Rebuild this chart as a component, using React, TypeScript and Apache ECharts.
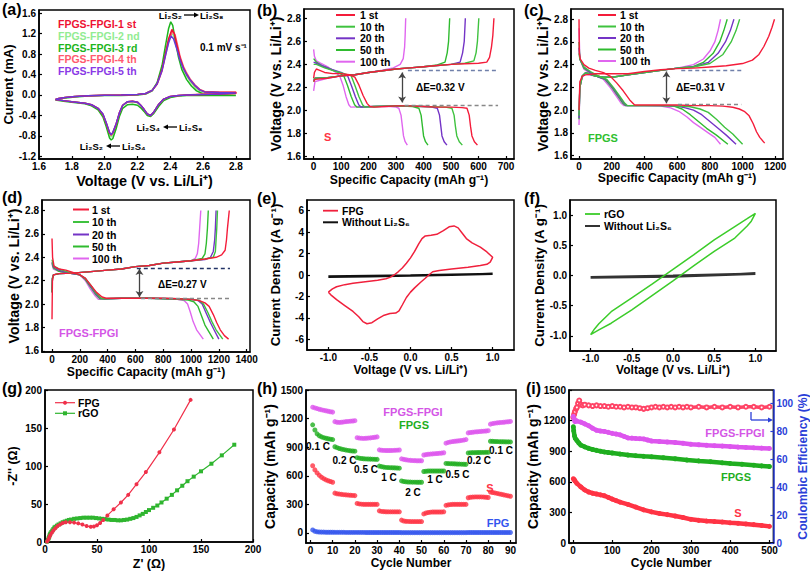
import React, { useEffect, useRef } from "react";
import * as echarts from "echarts";

const FONT = '"Liberation Sans", Arial, Helvetica, sans-serif';

// ---------- colours ----------
const C1 = "#f41c3a";
const C10 = "#3fc23f";
const C20 = "#7434c6";
const C50 = "#2fbb2f";
const C100 = "#e066ef";

// ---------- (a) CV of FPGS-FPGI ----------
const aVoltTicks = [1.6, 1.8, 2.0, 2.2, 2.4, 2.6, 2.8];
const aCurrTicks = [-1.2, -0.8, -0.4, 0.0, 0.4, 0.8, 1.2, 1.6];
const aCycle1 = [[1.7,-0.09],[1.72,-0.07],[1.76,-0.05],[1.82,-0.03],[1.9,-0.015],[2.0,-0.005],[2.1,0.0],[2.2,0.01],[2.25,0.03],[2.29,0.09],[2.32,0.22],[2.35,0.5],[2.37,0.8],[2.39,1.1],[2.41,1.28],[2.425,1.2],[2.44,0.98],[2.46,0.72],[2.48,0.53],[2.5,0.4],[2.52,0.3],[2.55,0.18],[2.58,0.1],[2.61,0.06],[2.7,0.05],[2.8,0.05],[2.8,0.03],[2.7,0.02],[2.6,0.01],[2.5,0.0],[2.45,-0.01],[2.4,-0.03],[2.36,-0.08],[2.33,-0.18],[2.3,-0.33],[2.28,-0.4],[2.26,-0.37],[2.24,-0.28],[2.22,-0.2],[2.2,-0.14],[2.17,-0.12],[2.14,-0.13],[2.11,-0.2],[2.09,-0.35],[2.07,-0.57],[2.05,-0.74],[2.04,-0.78],[2.03,-0.74],[2.01,-0.55],[1.99,-0.38],[1.96,-0.26],[1.92,-0.19],[1.88,-0.16],[1.8,-0.13],[1.75,-0.11],[1.7,-0.09]];
const aCycle2 = [[1.7,-0.09],[1.72,-0.07],[1.76,-0.05],[1.82,-0.03],[1.9,-0.015],[2.0,-0.005],[2.1,0.0],[2.2,0.01],[2.25,0.03],[2.29,0.1],[2.32,0.24],[2.35,0.52],[2.37,0.82],[2.39,1.08],[2.405,1.22],[2.42,1.16],[2.44,0.92],[2.46,0.68],[2.48,0.5],[2.5,0.37],[2.52,0.27],[2.55,0.15],[2.58,0.07],[2.61,0.04],[2.7,0.03],[2.8,0.03],[2.8,0.02],[2.7,0.01],[2.6,0.0],[2.5,-0.005],[2.45,-0.015],[2.4,-0.04],[2.36,-0.09],[2.33,-0.19],[2.3,-0.34],[2.28,-0.41],[2.26,-0.38],[2.24,-0.29],[2.22,-0.21],[2.2,-0.15],[2.17,-0.13],[2.14,-0.14],[2.11,-0.21],[2.09,-0.37],[2.07,-0.6],[2.05,-0.78],[2.04,-0.82],[2.03,-0.77],[2.01,-0.57],[1.99,-0.39],[1.96,-0.27],[1.92,-0.2],[1.88,-0.16],[1.8,-0.13],[1.75,-0.11],[1.7,-0.09]];
const aCycle3 = [[1.7,-0.1],[1.72,-0.08],[1.76,-0.06],[1.82,-0.04],[1.9,-0.02],[2.0,-0.01],[2.1,-0.01],[2.2,0.0],[2.25,0.02],[2.29,0.08],[2.32,0.24],[2.35,0.58],[2.37,0.95],[2.39,1.3],[2.403,1.43],[2.415,1.36],[2.43,1.08],[2.45,0.74],[2.47,0.5],[2.5,0.3],[2.53,0.17],[2.56,0.08],[2.6,0.02],[2.7,0.0],[2.8,-0.01],[2.8,-0.01],[2.7,-0.01],[2.6,-0.01],[2.5,-0.01],[2.45,-0.02],[2.4,-0.05],[2.36,-0.11],[2.33,-0.22],[2.3,-0.36],[2.28,-0.42],[2.26,-0.4],[2.24,-0.32],[2.22,-0.25],[2.2,-0.2],[2.17,-0.18],[2.14,-0.19],[2.11,-0.26],[2.09,-0.42],[2.07,-0.66],[2.05,-0.85],[2.04,-0.88],[2.03,-0.84],[2.01,-0.62],[1.99,-0.43],[1.96,-0.29],[1.92,-0.21],[1.88,-0.17],[1.8,-0.14],[1.75,-0.12],[1.7,-0.1]];
const aCycle4 = [[1.7,-0.09],[1.72,-0.07],[1.76,-0.05],[1.82,-0.03],[1.9,-0.015],[2.0,-0.005],[2.1,0.0],[2.2,0.01],[2.25,0.03],[2.29,0.09],[2.32,0.21],[2.35,0.47],[2.37,0.76],[2.39,1.05],[2.415,1.25],[2.43,1.17],[2.445,0.97],[2.46,0.75],[2.48,0.56],[2.5,0.43],[2.52,0.32],[2.55,0.2],[2.58,0.11],[2.61,0.07],[2.7,0.06],[2.8,0.06],[2.8,0.04],[2.7,0.03],[2.6,0.02],[2.5,0.0],[2.45,-0.01],[2.4,-0.03],[2.36,-0.08],[2.33,-0.18],[2.3,-0.33],[2.28,-0.4],[2.26,-0.37],[2.24,-0.28],[2.22,-0.2],[2.2,-0.14],[2.17,-0.12],[2.14,-0.13],[2.11,-0.2],[2.09,-0.35],[2.07,-0.57],[2.05,-0.74],[2.04,-0.78],[2.03,-0.74],[2.01,-0.55],[1.99,-0.38],[1.96,-0.26],[1.92,-0.19],[1.88,-0.16],[1.8,-0.13],[1.75,-0.11],[1.7,-0.09]];
const aCycle5 = [[1.7,-0.09],[1.72,-0.07],[1.76,-0.05],[1.82,-0.03],[1.9,-0.015],[2.0,-0.005],[2.1,0.0],[2.2,0.01],[2.25,0.03],[2.29,0.09],[2.32,0.22],[2.35,0.48],[2.37,0.76],[2.39,1.02],[2.405,1.15],[2.42,1.1],[2.44,0.9],[2.46,0.68],[2.48,0.52],[2.5,0.4],[2.52,0.3],[2.55,0.19],[2.58,0.1],[2.61,0.06],[2.7,0.05],[2.8,0.04],[2.8,0.03],[2.7,0.02],[2.6,0.01],[2.5,0.0],[2.45,-0.01],[2.4,-0.03],[2.36,-0.08],[2.33,-0.18],[2.3,-0.33],[2.28,-0.4],[2.26,-0.37],[2.24,-0.28],[2.22,-0.2],[2.2,-0.14],[2.17,-0.12],[2.14,-0.13],[2.11,-0.2],[2.09,-0.35],[2.07,-0.56],[2.05,-0.73],[2.04,-0.77],[2.03,-0.73],[2.01,-0.54],[1.99,-0.37],[1.96,-0.26],[1.92,-0.19],[1.88,-0.16],[1.8,-0.13],[1.75,-0.11],[1.7,-0.09]];

// ---------- (b) S electrode ----------
const vTicks = [1.6, 1.8, 2.0, 2.2, 2.4, 2.6, 2.8];
const bCapTicks = [0, 100, 200, 300, 400, 500, 600, 700];
const bDis1 = [[0,2.28],[3,2.33],[10,2.36],[20,2.35],[40,2.33],[70,2.32],[100,2.32],[130,2.31],[150,2.29],[165,2.22],[180,2.13],[195,2.06],[205,2.035],[220,2.03],[260,2.035],[300,2.04],[350,2.04],[400,2.035],[450,2.03],[500,2.03],[540,2.025],[558,2.02],[566,1.96],[571,1.86],[576,1.78],[585,1.73],[596,1.7]];
const bDis10 = [[0,2.4],[10,2.4],[40,2.37],[80,2.34],[110,2.32],[137,2.3],[150,2.22],[165,2.12],[178,2.05],[186,2.03],[220,2.035],[300,2.04],[400,2.035],[480,2.03],[503,2.02],[511,1.96],[516,1.86],[521,1.78],[530,1.73],[541,1.7]];
const bDis20 = [[0,2.42],[10,2.41],[30,2.39],[60,2.36],[100,2.33],[124,2.3],[137,2.22],[152,2.12],[164,2.05],[172,2.03],[220,2.035],[300,2.04],[400,2.035],[430,2.03],[450,2.02],[458,1.96],[463,1.86],[467,1.78],[475,1.73],[485,1.7]];
const bDis50 = [[0,2.45],[10,2.42],[30,2.39],[60,2.36],[90,2.33],[110,2.3],[123,2.22],[137,2.12],[149,2.05],[157,2.03],[220,2.035],[300,2.04],[360,2.035],[383,2.02],[391,1.96],[396,1.86],[400,1.78],[407,1.73],[416,1.7]];
const bDis100 = [[0,2.53],[3,2.47],[10,2.43],[25,2.41],[50,2.38],[75,2.34],[95,2.3],[107,2.22],[118,2.12],[128,2.05],[135,2.03],[200,2.035],[280,2.035],[300,2.03],[310,2.02],[318,1.96],[323,1.86],[327,1.78],[333,1.73],[341,1.7]];
const bChg1 = [[0,2.25],[5,2.27],[50,2.28],[100,2.3],[150,2.31],[200,2.33],[250,2.345],[300,2.36],[350,2.37],[400,2.38],[450,2.39],[500,2.4],[550,2.405],[600,2.41],[630,2.42],[640,2.46],[647,2.55],[652,2.65],[656,2.8]];
const bChg10 = [[0,2.27],[5,2.28],[50,2.285],[100,2.3],[150,2.31],[200,2.33],[250,2.345],[300,2.36],[350,2.37],[400,2.38],[450,2.39],[500,2.4],[550,2.41],[583,2.43],[591,2.5],[596,2.6],[601,2.8]];
const bChg20 = [[0,2.26],[5,2.28],[50,2.285],[100,2.3],[150,2.31],[200,2.33],[250,2.345],[300,2.36],[350,2.37],[400,2.38],[450,2.39],[500,2.4],[533,2.42],[542,2.5],[548,2.6],[552,2.8]];
const bChg50 = [[0,2.25],[5,2.28],[50,2.285],[100,2.3],[150,2.31],[200,2.33],[250,2.345],[300,2.36],[350,2.37],[400,2.38],[450,2.395],[478,2.42],[486,2.5],[491,2.6],[495,2.8]];
const bChg100 = [[0,2.17],[5,2.25],[50,2.28],[100,2.3],[150,2.31],[200,2.33],[250,2.35],[290,2.37],[315,2.4],[326,2.45],[331,2.55],[333,2.65],[335,2.8]];

// ---------- (c) FPGS electrode ----------
const cCapTicks = [0, 200, 400, 600, 800, 1000, 1200];
const cDis1 = [[0,2.8],[2,2.5],[8,2.45],[30,2.4],[60,2.37],[100,2.35],[150,2.33],[190,2.3],[230,2.24],[270,2.17],[310,2.09],[340,2.045],[400,2.045],[500,2.045],[600,2.045],[700,2.04],[800,2.04],[880,2.035],[940,2.025],[980,2.01],[1010,1.99],[1040,1.95],[1065,1.88],[1085,1.81],[1105,1.76],[1135,1.71]];
const cDis10 = [[0,2.5],[5,2.45],[30,2.38],[70,2.34],[120,2.3],[170,2.27],[210,2.2],[250,2.12],[280,2.06],[295,2.04],[400,2.04],[500,2.04],[600,2.035],[680,2.03],[740,2.01],[790,1.98],[840,1.92],[890,1.85],[940,1.79],[1000,1.7]];
const cDis20 = [[0,2.55],[5,2.45],[30,2.38],[70,2.33],[120,2.29],[165,2.27],[205,2.2],[245,2.12],[275,2.06],[290,2.04],[400,2.04],[500,2.04],[600,2.035],[650,2.02],[700,2.0],[750,1.96],[800,1.9],[850,1.84],[900,1.78],[960,1.7]];
const cDis50 = [[0,2.6],[5,2.45],[30,2.37],[70,2.33],[120,2.29],[160,2.27],[200,2.2],[240,2.12],[268,2.06],[285,2.04],[400,2.04],[500,2.04],[580,2.035],[630,2.01],[680,1.96],[730,1.9],[780,1.84],[840,1.78],[910,1.7]];
const cDis100 = [[0,2.72],[5,2.45],[30,2.36],[70,2.32],[110,2.3],[150,2.27],[190,2.2],[230,2.12],[258,2.06],[275,2.04],[400,2.04],[500,2.035],[560,2.02],[610,1.99],[660,1.94],[700,1.89],[740,1.85],[790,1.8],[830,1.76],[865,1.7]];
const cChg1 = [[0,2.0],[5,2.25],[20,2.3],[40,2.31],[100,2.32],[200,2.32],[300,2.32],[400,2.34],[500,2.355],[600,2.365],[700,2.37],[800,2.38],[900,2.39],[1000,2.41],[1060,2.44],[1100,2.49],[1130,2.56],[1160,2.65],[1180,2.73],[1195,2.8]];
const cChg10 = [[0,1.95],[5,2.2],[20,2.3],[40,2.33],[60,2.32],[100,2.3],[150,2.29],[200,2.29],[300,2.31],[400,2.33],[500,2.35],[600,2.37],[700,2.38],[800,2.41],[880,2.49],[930,2.6],[960,2.7],[982,2.8]];
const cChg20 = [[0,1.93],[5,2.2],[20,2.3],[40,2.33],[60,2.32],[100,2.3],[150,2.29],[200,2.29],[300,2.31],[400,2.33],[500,2.35],[600,2.37],[700,2.38],[790,2.42],[850,2.5],[895,2.6],[925,2.7],[947,2.8]];
const cChg50 = [[0,1.92],[5,2.2],[20,2.3],[40,2.33],[60,2.32],[100,2.3],[150,2.29],[200,2.29],[300,2.31],[400,2.33],[500,2.35],[600,2.37],[700,2.385],[760,2.42],[820,2.5],[860,2.6],[885,2.7],[906,2.8]];
const cChg100 = [[0,1.87],[5,2.2],[20,2.29],[40,2.32],[60,2.31],[100,2.3],[150,2.29],[200,2.29],[300,2.31],[400,2.33],[500,2.35],[600,2.37],[700,2.4],[760,2.45],[800,2.52],[830,2.6],[850,2.7],[865,2.8]];

// ---------- (d) FPGS-FPGI electrode ----------
const dCapTicks = [0, 200, 400, 600, 800, 1000, 1200, 1400];
const dDis1 = [[0,2.56],[4,2.4],[15,2.32],[50,2.3],[100,2.29],[150,2.27],[200,2.25],[240,2.22],[280,2.16],[320,2.1],[360,2.06],[390,2.05],[500,2.05],[600,2.05],[700,2.05],[800,2.05],[900,2.045],[1000,2.04],[1060,2.03],[1100,2.01],[1130,1.98],[1160,1.91],[1185,1.84],[1210,1.78],[1240,1.73],[1270,1.7]];
const dDis10 = [[0,2.38],[10,2.33],[50,2.3],[100,2.28],[200,2.25],[240,2.22],[280,2.16],[320,2.09],[355,2.05],[380,2.045],[500,2.05],[700,2.05],[900,2.045],[1000,2.04],[1060,2.03],[1090,2.0],[1120,1.93],[1150,1.85],[1180,1.78],[1228,1.7]];
const dDis20 = [[0,2.36],[10,2.32],[50,2.29],[100,2.27],[200,2.25],[240,2.22],[280,2.15],[320,2.08],[350,2.05],[380,2.045],[500,2.05],[700,2.05],[900,2.045],[1000,2.04],[1050,2.03],[1080,2.0],[1110,1.92],[1140,1.84],[1170,1.77],[1200,1.7]];
const dDis50 = [[0,2.35],[10,2.31],[50,2.28],[100,2.27],[200,2.25],[240,2.21],[280,2.14],[315,2.08],[345,2.045],[380,2.045],[500,2.05],[700,2.05],[900,2.04],[980,2.035],[1020,2.02],[1050,1.98],[1075,1.9],[1100,1.82],[1130,1.76],[1160,1.7]];
const dDis100 = [[0,2.34],[10,2.3],[50,2.28],[100,2.27],[200,2.25],[240,2.2],[275,2.13],[310,2.07],[335,2.04],[370,2.04],[500,2.05],[700,2.05],[900,2.04],[950,2.03],[975,2.0],[995,1.93],[1015,1.85],[1040,1.78],[1088,1.7]];
const dChg1 = [[0,1.87],[3,2.2],[10,2.25],[50,2.26],[150,2.265],[300,2.28],[400,2.29],[500,2.3],[600,2.32],[700,2.33],[800,2.35],[900,2.36],[1000,2.37],[1100,2.385],[1180,2.4],[1220,2.42],[1245,2.46],[1255,2.55],[1262,2.65],[1275,2.8]];
const dChg10 = [[0,2.1],[3,2.22],[10,2.25],[50,2.26],[150,2.265],[300,2.28],[400,2.29],[500,2.3],[600,2.32],[700,2.33],[800,2.35],[900,2.36],[1000,2.37],[1100,2.385],[1160,2.4],[1175,2.45],[1180,2.55],[1185,2.65],[1190,2.8]];
const dChg20 = [[0,2.1],[3,2.22],[10,2.25],[50,2.26],[150,2.265],[300,2.28],[400,2.29],[500,2.3],[600,2.32],[700,2.33],[800,2.35],[900,2.36],[1000,2.37],[1100,2.38],[1140,2.4],[1160,2.45],[1170,2.55],[1175,2.65],[1180,2.8]];
const dChg50 = [[0,2.1],[3,2.22],[10,2.25],[50,2.26],[150,2.265],[300,2.28],[400,2.29],[500,2.3],[600,2.32],[700,2.33],[800,2.35],[900,2.36],[1000,2.37],[1080,2.39],[1100,2.43],[1110,2.52],[1118,2.65],[1124,2.8]];
const dChg100 = [[0,2.1],[3,2.22],[10,2.25],[50,2.26],[150,2.265],[300,2.28],[400,2.29],[500,2.3],[600,2.32],[700,2.33],[800,2.35],[900,2.36],[1000,2.37],[1030,2.39],[1045,2.43],[1055,2.52],[1062,2.65],[1070,2.8]];

// ---------- (e) FPG CV ----------
const ePotTicks = [-1.0, -0.5, 0.0, 0.5, 1.0];
const eCurTicks = [-6, -4, -2, 0, 2, 4, 6];
const eFpg = [[-1.0,-1.6],[-0.95,-1.3],[-0.9,-1.1],[-0.8,-0.9],[-0.7,-0.78],[-0.6,-0.68],[-0.5,-0.58],[-0.4,-0.48],[-0.3,-0.35],[-0.25,-0.22],[-0.2,0.0],[-0.15,0.3],[-0.1,0.65],[-0.05,1.1],[0.0,1.6],[0.05,2.2],[0.1,2.9],[0.14,3.4],[0.18,3.65],[0.25,3.72],[0.32,3.8],[0.4,4.15],[0.47,4.5],[0.53,4.58],[0.58,4.4],[0.63,3.9],[0.68,3.4],[0.75,3.0],[0.85,2.6],[0.93,2.15],[1.0,1.65],[0.97,1.2],[0.93,1.0],[0.85,0.88],[0.7,0.72],[0.5,0.55],[0.35,0.42],[0.27,0.3],[0.23,0.05],[0.18,-0.3],[0.12,-0.7],[0.05,-1.2],[0.0,-1.6],[-0.05,-2.1],[-0.1,-2.8],[-0.14,-3.35],[-0.18,-3.55],[-0.25,-3.6],[-0.32,-3.75],[-0.4,-4.1],[-0.47,-4.45],[-0.53,-4.55],[-0.58,-4.35],[-0.63,-3.9],[-0.7,-3.4],[-0.8,-2.85],[-0.9,-2.3],[-0.97,-1.85],[-1.0,-1.6]];
const eBlank = [[-1,-0.12],[-0.5,-0.08],[0,-0.03],[0.5,0.03],[1,0.1],[0.5,0.02],[0,-0.06],[-0.5,-0.12],[-1,-0.18]];

// ---------- (f) rGO CV ----------
const fCurTicks = [-1.0, -0.5, 0.0, 0.5, 1.0];
const fRgo = [[-1.0,-0.98],[-0.95,-0.88],[-0.9,-0.8],[-0.75,-0.6],[-0.5,-0.37],[-0.25,-0.14],[0,0.1],[0.25,0.34],[0.5,0.59],[0.75,0.81],[0.9,0.94],[1.0,1.03],[0.95,0.9],[0.9,0.82],[0.75,0.62],[0.5,0.4],[0.25,0.16],[0,-0.09],[-0.25,-0.33],[-0.5,-0.57],[-0.75,-0.79],[-0.9,-0.9],[-1.0,-0.98]];
const fBlank = [[-1,-0.03],[0,-0.005],[1,0.03],[0,-0.015],[-1,-0.035]];

// ---------- (g) Nyquist ----------
const gTicks = [0, 50, 100, 150, 200];
const gFpg = [[2,0.5],[3,3],[4,6],[5,9],[6.5,12],[8,15],[10,18],[12,21],[14.5,23],[17,25],[20,26],[24,26],[28,25.5],[32,24.5],[36,23],[40,21],[44,20],[47,20.5],[50,22],[53,25],[56,29],[60,35],[66,43],[73,52],[80,62],[88,76],[97,92],[110,118],[124,148],[140,187]];
const gRgo = [[2,0.5],[3,3],[3.5,5],[4,7],[4.5,9],[5,11],[6,13],[7,15],[8,17],[9,19],[10,20],[11.5,21.5],[13,23],[15,24.5],[17,26],[19,27],[21,28],[23,29],[25,29.5],[28,30.5],[31,31],[34,31.5],[37,32],[40,32],[43,32],[46,32],[49,31.5],[52,31],[55,30.5],[58,30],[61,29.5],[64,29],[67,29],[70,28.5],[73,28.5],[76,29],[79,29.5],[82,30.5],[85,31.5],[88,33],[91,35],[94,37],[97,39.5],[100,42],[104,45],[108,48],[112,52],[117,57],[122,62],[127,68],[132,74],[137,80],[143,86],[150,93],[160,103],[170,114],[182,128]];

// ---------- (h) rate capability ----------
const hCycleTicks = [0, 10, 20, 30, 40, 50, 60, 70, 80, 90];
const capTicks = [0, 300, 600, 900, 1200, 1500];
const hFpgsFpgi = [1320,1312,1305,1298,1292,1287,1282,1277,1272,1268,1168,1162,1160,1162,1165,1168,1170,1173,1175,1178,1000,996,993,992,994,996,998,1001,1004,1008,872,868,866,865,865,865,866,867,869,871,778,772,768,764,762,760,759,758,758,758,818,822,826,828,830,832,834,836,838,842,942,950,955,959,962,965,968,971,975,980,1050,1054,1057,1060,1062,1064,1066,1068,1070,1073,1142,1148,1152,1155,1158,1160,1162,1165,1167,1170];
const hFpgs = [1135,1080,1040,1020,1008,1000,994,989,984,980,905,895,886,880,875,870,866,862,860,858,790,785,781,779,777,776,775,774,773,772,702,696,691,688,686,685,684,683,682,680,546,540,537,535,534,533,533,532,532,532,645,648,650,650,650,650,650,650,650,650,730,728,727,726,725,724,723,722,721,720,840,842,843,843,844,844,845,845,846,846,962,961,960,959,958,957,957,956,956,955];
const hS = [705,662,630,605,585,570,557,548,540,532,418,412,408,405,402,400,398,396,394,392,310,305,302,300,300,300,300,300,300,300,232,226,224,223,222,222,222,222,222,222,135,126,122,121,120,120,120,120,120,120,200,210,215,218,220,220,220,220,220,222,290,295,298,300,300,300,300,300,300,300,370,375,377,378,378,378,378,377,375,372,430,425,420,415,410,405,400,395,390,385];
const hFpg = [32,18,12,10,9,9,8,8,8,8,7,7,7,7,7,6,6,6,6,6,6,6,6,6,5,5,5,5,5,5,5,5,5,5,5,5,5,5,5,5,4,4,4,4,4,4,4,4,4,4,4,4,4,4,4,4,4,4,4,4,4,4,4,4,4,4,4,4,4,4,5,5,5,5,5,5,5,5,5,5,5,5,5,5,5,5,5,5,5,5];

// ---------- (i) long cycling ----------
const iCycleTicks = [0, 100, 200, 300, 400, 500];
const ceTicks = [0, 20, 40, 60, 80, 100];
const iFpgsFpgi = [[1,1240],[3,1215],[5,1190],[8,1200],[10,1195],[20,1185],[30,1168],[40,1150],[50,1125],[60,1105],[70,1098],[80,1094],[90,1085],[100,1075],[110,1068],[120,1060],[130,1045],[140,1030],[150,1028],[160,1025],[170,1023],[180,1020],[190,1010],[200,1000],[220,995],[240,990],[260,985],[280,978],[300,968],[320,963],[340,958],[360,954],[380,950],[400,945],[420,940],[440,937],[460,933],[480,930],[500,927]];
const iFpgs = [[1,1140],[2,1100],[4,1050],[6,1025],[10,1005],[15,980],[20,960],[30,943],[40,928],[50,917],[60,908],[70,900],[80,893],[90,887],[100,882],[120,872],[140,863],[160,856],[180,850],[200,845],[230,836],[260,826],[290,814],[320,805],[350,797],[380,786],[400,780],[430,772],[460,763],[480,756],[500,750]];
const iS = [[1,630],[3,622],[5,610],[10,585],[20,550],[30,520],[40,500],[50,488],[60,480],[70,472],[80,463],[90,447],[100,430],[110,415],[120,400],[140,378],[160,352],[180,325],[200,305],[220,290],[240,278],[260,265],[280,250],[300,232],[320,222],[340,215],[360,210],[380,205],[400,198],[420,193],[440,187],[460,180],[480,172],[500,163]];
const iCe = [[1,90],[3,92],[5,94],[8,96],[10,97],[13,100],[16,102],[20,99],[25,98.5],[30,99],[40,98.5],[50,98],[60,98.5],[70,98],[80,98],[90,97.5],[100,98],[110,97.5],[120,97.5],[130,97],[140,97.5],[150,97],[160,97],[170,96.5],[180,96],[190,96.5],[200,97],[210,97.5],[220,97],[230,97.5],[240,97],[250,97.5],[260,97],[270,97.5],[280,97],[290,97.5],[300,97],[320,97.5],[340,97],[360,97.5],[380,97],[400,97.5],[420,97],[440,97.5],[460,97.5],[480,97],[500,97.5]];

// ---------- helpers ----------
const grids = [
  { left: 39, top: 10, width: 211, height: 149 },
  { left: 304, top: 9, width: 210, height: 150 },
  { left: 571, top: 9, width: 212, height: 150 },
  { left: 42, top: 200, width: 208, height: 152 },
  { left: 307, top: 200, width: 207, height: 150 },
  { left: 570, top: 200, width: 206, height: 151 },
  { left: 45, top: 390, width: 208, height: 152 },
  { left: 306, top: 390, width: 210, height: 153 },
  { left: 569, top: 390, width: 208, height: 153 },
];

function axis(gi: number, min: number, max: number, ticks: number[], dec: number, name: string, gap: number, isY: boolean, nameSize: number, extra: any = {}) {
  const color = extra.color || "#000";
  return {
    type: "value",
    gridIndex: gi,
    min,
    max,
    position: extra.position,
    axisLine: { show: true, onZero: false, lineStyle: { color, width: 1.5 } },
    axisTick: { show: true, inside: true, length: 3, customValues: ticks, lineStyle: { color, width: 1.2 } },
    axisLabel: {
      customValues: ticks,
      formatter: (v: number) => v.toFixed(dec),
      fontSize: 10,
      fontWeight: "bold",
      fontFamily: FONT,
      color,
      margin: isY ? 3 : 2,
    },
    splitLine: { show: false },
    name,
    nameLocation: "middle",
    nameGap: gap,
    nameRotate: isY ? 90 : 0,
    nameTextStyle: { fontSize: nameSize, fontWeight: "bold", fontFamily: FONT, color },
  };
}

function line(gi: number, data: any, color: string, width = 1.4, yi?: number) {
  return {
    type: "line",
    xAxisIndex: gi,
    yAxisIndex: yi === undefined ? gi : yi,
    data,
    showSymbol: false,
    symbol: "none",
    lineStyle: { color, width },
    itemStyle: { color },
    silent: true,
  };
}

const graphics: any[] = [];
function txt(x: number, y: number, text: string, color = "#000", size = 10, align = "left") {
  graphics.push({
    type: "text",
    x,
    y,
    silent: true,
    style: {
      text,
      fill: color,
      font: `bold ${size}px ${FONT}`,
      align,
      textAlign: align,
      verticalAlign: "middle",
      textVerticalAlign: "middle",
    },
  });
}
function seg(x1: number, y1: number, x2: number, y2: number, color: string, w = 2) {
  graphics.push({ type: "line", silent: true, shape: { x1, y1, x2, y2 }, style: { stroke: color, lineWidth: w } });
}
function headLeft(x: number, y: number, color = "#000") {
  graphics.push({ type: "polygon", silent: true, shape: { points: [[x, y], [x + 5, y - 2.5], [x + 5, y + 2.5]] }, style: { fill: color } });
}
function headRight(x: number, y: number, color = "#000") {
  graphics.push({ type: "polygon", silent: true, shape: { points: [[x, y], [x - 5, y - 2.5], [x - 5, y + 2.5]] }, style: { fill: color } });
}

function cdLegend(x1: number, x2: number, tx: number, ys: number[]) {
  const items = [["1 st", C1], ["10 th", C10], ["20 th", C20], ["50 th", C50], ["100 th", C100]];
  items.forEach((it, k) => {
    seg(x1, ys[k], x2, ys[k], it[1], 2);
    txt(tx, ys[k], it[0], "#000", 10.5);
  });
}

function dashPair(upperY: number, x1: number, x2: number, lowerY: number, x3: number, x4: number, arrowX: number, aTop: number, aBot: number, upColor: string) {
  return {
    silent: true,
    symbol: "none",
    label: { show: false },
    data: [
      [{ coord: [x1, upperY], lineStyle: { color: upColor, type: [4, 3], width: 1.3 } }, { coord: [x2, upperY] }],
      [{ coord: [x3, lowerY], lineStyle: { color: "#888", type: [4, 3], width: 1.3 } }, { coord: [x4, lowerY] }],
      [
        { coord: [arrowX, aTop], symbol: "arrow", symbolSize: 6, lineStyle: { color: "#444", type: "solid", width: 1.3 } },
        { coord: [arrowX, aBot], symbol: "arrow", symbolSize: 6 },
      ],
    ],
  };
}

function buildOption() {
  const xAxes: any[] = [];
  const yAxes: any[] = [];
  const series: any[] = [];

  // (a)
  xAxes.push(axis(0, 1.6, 2.886, aVoltTicks, 1, "Voltage (V vs. Li/Li⁺)", 15, false, 14.4));
  yAxes.push(axis(0, -1.25, 1.66, aCurrTicks, 1, "Current (mA)", 23.5, true, 13));
  // (b)
  xAxes.push(axis(1, -35, 729, bCapTicks, 0, "Specific Capacity (mAh g⁻¹)", 15, false, 12.2));
  yAxes.push(axis(1, 1.58, 2.88, vTicks, 1, "Voltage (V vs. Li/Li⁺)", 16.5, true, 14.2));
  // (c)
  xAxes.push(axis(2, -49, 1247, cCapTicks, 0, "Specific Capacity (mAh g⁻¹)", 13, false, 12.2));
  yAxes.push(axis(2, 1.57, 2.89, vTicks, 1, "Voltage (V vs. Li/Li⁺)", 19, true, 14.2));
  // (d)
  xAxes.push(axis(3, -72, 1424, dCapTicks, 0, "Specific Capacity (mAh g⁻¹)", 14, false, 12.2));
  yAxes.push(axis(3, 1.59, 2.89, vTicks, 1, "Voltage (V vs. Li/Li⁺)", 21, true, 14.2));
  // (e)
  xAxes.push(axis(4, -1.26, 1.26, ePotTicks, 1, "Voltage (V vs. Li/Li⁺)", 14, false, 12));
  yAxes.push(axis(4, -7, 7, eCurTicks, 0, "Current Density (A g⁻¹)", 25, true, 13.3));
  // (f)
  xAxes.push(axis(5, -1.25, 1.25, ePotTicks, 1, "Voltage (V vs. Li/Li⁺)", 13, false, 12));
  yAxes.push(axis(5, -1.25, 1.25, fCurTicks, 1, "Current Density (A g⁻¹)", 20, true, 13.3));
  // (g)
  xAxes.push(axis(6, 0, 200, gTicks, 0, "Z' (Ω)", 15, false, 12.5));
  yAxes.push(axis(6, 0, 200, gTicks, 0, "-Z'' (Ω)", 26, true, 12.5));
  // (h)
  xAxes.push(axis(7, -2, 92.5, hCycleTicks, 0, "Cycle Number", 14, false, 12));
  yAxes.push(axis(7, -105, 1500, capTicks, 0, "Capacity (mAh g⁻¹)", 24, true, 14));
  // (i)
  xAxes.push(axis(8, -10, 510, iCycleTicks, 0, "Cycle Number", 14, false, 12));
  yAxes.push(axis(8, 0, 1500, capTicks, 0, "Capacity (mAh g⁻¹)", 17, true, 14));
  yAxes.push(axis(8, 0, 109.5, ceTicks, 0, "Coulombic Efficiency (%)", 15, true, 12.2, { color: "#2b3fd8", position: "right" }));

  // (a) series
  series.push(line(0, aCycle2, "#92ec92", 1.5));
  series.push(line(0, aCycle3, "#1db51d", 1.5));
  series.push(line(0, aCycle4, "#ff6274", 1.5));
  series.push(line(0, aCycle1, "#ee1133", 1.5));
  series.push(line(0, aCycle5, "#6a36d8", 1.5));

  // (b)
  const bSets: [any, any, string][] = [[bDis100, bChg100, C100], [bDis50, bChg50, C50], [bDis20, bChg20, C20], [bDis10, bChg10, C10], [bDis1, bChg1, C1]];
  bSets.forEach(([d, c, col]) => { series.push(line(1, d, col)); series.push(line(1, c, col)); });
  series[series.length - 1].markLine = dashPair(2.35, 343, 671, 2.05, 331, 671, 322, 2.33, 2.07, "#7080aa");

  // (c)
  const cSets: [any, any, string][] = [[cDis100, cChg100, C100], [cDis50, cChg50, C50], [cDis20, cChg20, C20], [cDis10, cChg10, C10], [cDis1, cChg1, C1]];
  cSets.forEach(([d, c, col]) => { series.push(line(2, d, col)); series.push(line(2, c, col)); });
  series[series.length - 1].markLine = dashPair(2.35, 625, 992, 2.05, 605, 992, 534, 2.34, 2.06, "#7080aa");

  // (d)
  const dSets: [any, any, string][] = [[dDis100, dChg100, C100], [dDis50, dChg50, C50], [dDis20, dChg20, C20], [dDis10, dChg10, C10], [dDis1, dChg1, C1]];
  dSets.forEach(([d, c, col]) => { series.push(line(3, d, col)); series.push(line(3, c, col)); });
  series[series.length - 1].markLine = dashPair(2.31, 610, 1280, 2.05, 640, 1280, 629, 2.3, 2.06, "#223366");

  // (e)
  series.push(line(4, eBlank, "#111", 2.2));
  series.push(line(4, eFpg, "#f0203c", 1.5));
  // (f)
  series.push(line(5, fBlank, "#333", 2.5));
  series.push(line(5, fRgo, "#3ccc2a", 1.5));

  // (g)
  series.push({ ...line(6, gRgo, "#2fb52f", 1.2), showSymbol: true, symbol: "rect", symbolSize: 4 });
  series.push({ ...line(6, gFpg, "#f0304a", 1.2), showSymbol: true, symbol: "circle", symbolSize: 4 });

  // (h)
  const hSeries: [number[], string][] = [[hFpg, "#3355ee"], [hS, "#ff3344"], [hFpgs, "#1fae1f"], [hFpgsFpgi, "#dd55ee"]];
  hSeries.forEach(([vals, col]) => {
    series.push({
      type: "scatter",
      xAxisIndex: 7,
      yAxisIndex: 7,
      data: vals.map((v, k) => [k + 1, v]),
      symbol: "circle",
      symbolSize: 5,
      itemStyle: { color: col },
      silent: true,
    });
  });

  // (i)
  series.push({ ...line(8, iCe, "#ff4466", 3.5, 9), showSymbol: true, symbol: "emptyCircle", symbolSize: 4 });
  series.push({ ...line(8, iS, "#ff3344", 4.5), showSymbol: true, symbol: "circle", symbolSize: 5 });
  series.push({ ...line(8, iFpgs, "#1fae1f", 4.5), showSymbol: true, symbol: "circle", symbolSize: 5 });
  series.push({ ...line(8, iFpgsFpgi, "#dd55ee", 4.5), showSymbol: true, symbol: "circle", symbolSize: 5 });

  // ---------- annotations ----------
  const panelTitles: [string, number, number][] = [["(a)", 2, 9], ["(b)", 257, 10], ["(c)", 524, 10], ["(d)", 2, 197], ["(e)", 257, 198], ["(f)", 524, 198], ["(g)", 2, 388], ["(h)", 257, 388], ["(i)", 526, 388]];
  panelTitles.forEach(([t, x, y]) => txt(x, y, t, "#000", 16));

  // (a) legend + labels
  const aLegend: [string, string][] = [["FPGS-FPGI-1 st", "#ee1133"], ["FPGS-FPGI-2 nd", "#92ec92"], ["FPGS-FPGI-3 rd", "#1db51d"], ["FPGS-FPGI-4 th", "#ff5a6e"], ["FPGS-FPGI-5 th", "#8a3ae6"]];
  aLegend.forEach(([t, c], k) => txt(58, 24 + k * 11.8, t, c, 10.5));
  txt(182, 15, "Li₂S₂", "#000", 9.5, "right");
  seg(184, 15, 197, 15, "#000", 1.3); headRight(199, 15);
  txt(200, 15, "Li₂S₈", "#000", 9.5);
  txt(200, 47, "0.1 mV s⁻¹", "#000", 10);
  txt(160, 127, "Li₂S₄", "#000", 9.5, "right");
  headLeft(163, 127); seg(167, 127, 177, 127, "#000", 1.3);
  txt(179, 127, "Li₂S₈", "#000", 9.5);
  txt(103, 146, "Li₂S₂", "#000", 9.5, "right");
  headLeft(106, 146); seg(110, 146, 120, 146, "#000", 1.3);
  txt(122, 146, "Li₂S₄", "#000", 9.5);

  // (b)(c)(d) legends + labels
  cdLegend(336, 355, 360, [15, 26.7, 38.3, 50, 61.7]);
  txt(416, 87, "ΔE=0.32 V", "#000", 10);
  txt(324, 137, "S", "#ff3344", 11);
  cdLegend(598, 616, 620, [15, 26.5, 38, 49.5, 61]);
  txt(676, 87, "ΔE=0.31 V", "#000", 10);
  txt(588, 138, "FPGS", "#2fbf2f", 11);
  cdLegend(73, 89, 92, [209.5, 222, 234.5, 246.5, 258.5]);
  txt(158, 284, "ΔE=0.27 V", "#000", 10);
  txt(59, 333, "FPGS-FPGI", "#d456e6", 11);

  // (e) legend
  seg(323, 210.7, 338, 210.7, "#f0203c", 1.8); txt(342, 210.7, "FPG", "#000", 10.5);
  seg(323, 222.3, 338, 222.3, "#111", 2); txt(342, 222.3, "Without Li₂S₆", "#000", 10.5);
  // (f) legend
  seg(585, 214, 600, 214, "#3ccc2a", 1.8); txt(604, 214, "rGO", "#000", 10.5);
  seg(585, 226, 600, 226, "#333", 2); txt(604, 226, "Without Li₂S₆", "#000", 10.5);
  // (g) legend
  seg(55, 402.7, 75, 402.7, "#f0304a", 1.2);
  graphics.push({ type: "circle", silent: true, shape: { cx: 65, cy: 402.7, r: 2 }, style: { fill: "#f0304a" } });
  txt(78, 402.7, "FPG", "#000", 10.5);
  seg(55, 413.3, 75, 413.3, "#2fb52f", 1.2);
  graphics.push({ type: "rect", silent: true, shape: { x: 63, y: 411.3, width: 4, height: 4 }, style: { fill: "#2fb52f" } });
  txt(78, 413.3, "rGO", "#000", 10.5);

  // (h) labels
  txt(413, 412, "FPGS-FPGI", "#d456e6", 11, "center");
  txt(414, 425, "FPGS", "#1fae1f", 11, "center");
  const rateLabels: [string, number, number][] = [["0.1 C", 318, 446.7], ["0.2 C", 344.5, 460], ["0.5 C", 366, 469.3], ["1 C", 389, 477.3], ["2 C", 413, 492.7], ["1 C", 435, 479], ["0.5 C", 457.5, 474], ["0.2 C", 479, 460], ["0.1 C", 501, 450]];
  rateLabels.forEach(([t, x, y]) => txt(x, y, t, "#000", 10, "center"));
  txt(490, 488, "S", "#ff3344", 11, "center");
  txt(498, 523, "FPG", "#3355ee", 11, "center");

  // (i) labels + arrow
  txt(735, 433, "FPGS-FPGI", "#d456e6", 11, "center");
  txt(736, 477, "FPGS", "#1fae1f", 11, "center");
  txt(738, 513, "S", "#ff3344", 11, "center");
  seg(751, 412, 751, 420, "#2b3fd8", 1.3);
  seg(751, 420, 768, 420, "#2b3fd8", 1.3);
  headRight(773, 420, "#2b3fd8");

  return {
    animation: false,
    backgroundColor: "#fff",
    textStyle: { fontFamily: FONT },
    grid: grids.map((g) => ({ ...g, show: true, borderColor: "#000", borderWidth: 1.5, backgroundColor: "transparent", containLabel: false })),
    xAxis: xAxes,
    yAxis: yAxes,
    series,
    graphic: { elements: graphics },
  };
}

export default function App() {
  const ref = useRef<HTMLDivElement>(null);
  useEffect(() => {
    if (!ref.current) return;
    const chart = echarts.init(ref.current, null, { renderer: "svg" });
    chart.setOption(buildOption() as any);
    return () => chart.dispose();
  }, []);
  return <div ref={ref} style={{ position: "fixed", left: 0, top: 0, width: 810, height: 573, background: "#fff" }} />;
}
